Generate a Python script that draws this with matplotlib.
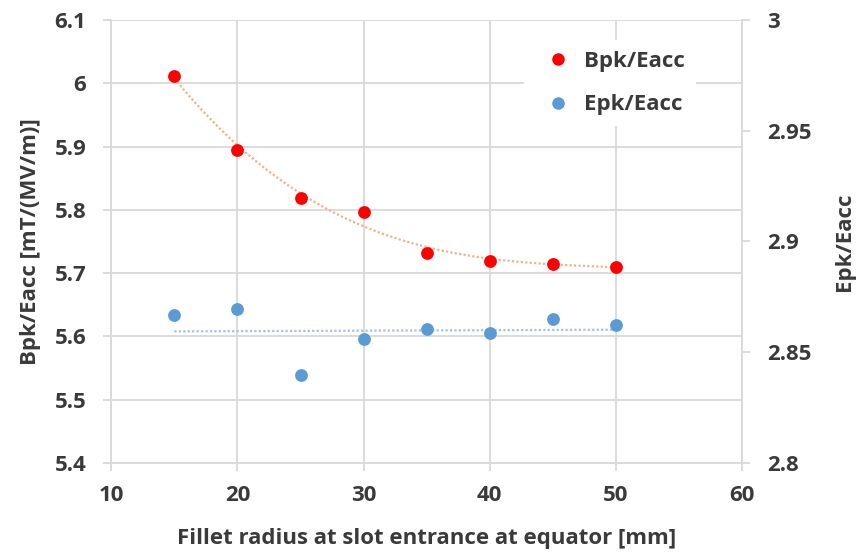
import numpy as np
import matplotlib
matplotlib.use("Agg")
import matplotlib.pyplot as plt
from matplotlib.ticker import FuncFormatter, MultipleLocator
from matplotlib.lines import Line2D

plt.rcParams['font.family'] = ['Open Sans', 'DejaVu Sans']
plt.rcParams['font.weight'] = 'bold'

# ── Data ─────────────────────────────────────────────────────────────────────
fillet_radius = [15, 20, 25, 30, 35, 40, 45, 50]
bpk_eacc = [6.012, 5.894, 5.818, 5.797, 5.731, 5.719, 5.715, 5.710]
epk_eacc = [2.8667, 2.8693, 2.8399, 2.8558, 2.8603, 2.8585, 2.8651, 2.8624]

RED = '#FF0000'
BLUE = '#5B9BD5'
GRID = '#D9D9D9'
TEXT = '#3A3A3A'
FS = 16

fig = plt.figure(figsize=(8.56, 5.55), dpi=100)
ax1 = fig.add_axes([0.130, 0.166, 0.737, 0.798])
ax2 = ax1.twinx()

# trendlines: poly(3) for Bpk, linear for Epk
xs = np.linspace(fillet_radius[0], fillet_radius[-1], 200)
p_b = np.polyfit(fillet_radius, bpk_eacc, 3)
p_e = np.polyfit(fillet_radius, epk_eacc, 1)
ax1.plot(xs, np.polyval(p_b, xs), color='#F4B183', lw=1.6, ls=(0, (1, 1)), zorder=2)
ax2.plot(xs, np.polyval(p_e, xs), color='#9DC3E6', lw=1.6, ls=(0, (1, 1)), zorder=2)

ax1.scatter(fillet_radius, bpk_eacc, s=85, color=RED, zorder=3, linewidths=0)
ax2.scatter(fillet_radius, epk_eacc, s=85, color=BLUE, zorder=3, linewidths=0)

ax1.set_xlim(10, 60)
ax1.set_ylim(5.4, 6.1)
ax2.set_ylim(2.8, 3.0)
ax1.xaxis.set_major_locator(MultipleLocator(10))
ax1.yaxis.set_major_locator(MultipleLocator(0.1))
ax2.yaxis.set_major_locator(MultipleLocator(0.05))

fmt = FuncFormatter(lambda v, _: f'{v:.2f}'.rstrip('0').rstrip('.'))
ax1.yaxis.set_major_formatter(fmt)
ax2.yaxis.set_major_formatter(fmt)

ax1.grid(True, color=GRID, lw=1.3)
ax1.set_axisbelow(True)
for ax in (ax1, ax2):
    for s in ax.spines.values():
        s.set_visible(False)
    ax.tick_params(colors=GRID, labelcolor=TEXT, labelsize=FS, length=6, width=1.3)
for lab in ax1.get_xticklabels() + ax1.get_yticklabels() + ax2.get_yticklabels():
    lab.set_fontweight('bold')
for ax, side in ((ax1, 'left'), (ax2, 'right'), (ax1, 'bottom')):
    ax.spines[side].set_visible(True)
    ax.spines[side].set_color(GRID)
    ax.spines[side].set_linewidth(1.3)
ax1.tick_params(axis='x', pad=10)
ax1.tick_params(axis='y', pad=12)
ax2.tick_params(axis='y', pad=12)

ax1.set_xlabel('Fillet radius at slot entrance at equator [mm]', fontsize=FS,
               fontweight='bold', color=TEXT, labelpad=16)
ax1.set_ylabel('Bpk/Eacc [mT/(MV/m)]', fontsize=FS, fontweight='bold', color=TEXT, labelpad=10)
ax2.set_ylabel('Epk/Eacc', fontsize=FS, fontweight='bold', color=TEXT, labelpad=16)

handles = [
    Line2D([], [], ls='none', marker='o', ms=8, color=RED, label='Bpk/Eacc'),
    Line2D([], [], ls='none', marker='o', ms=8, color=BLUE, label='Epk/Eacc'),
]
leg = ax2.legend(handles=handles, loc='upper right', bbox_to_anchor=(0.945, 0.98),
                 frameon=True, facecolor='white', edgecolor='none', framealpha=1,
                 handletextpad=0.2, labelspacing=1.0, borderpad=0.5,
                 prop={'size': FS, 'weight': 'bold'})
for t in leg.get_texts():
    t.set_color(TEXT)

fig.savefig('out.png', dpi=100)
